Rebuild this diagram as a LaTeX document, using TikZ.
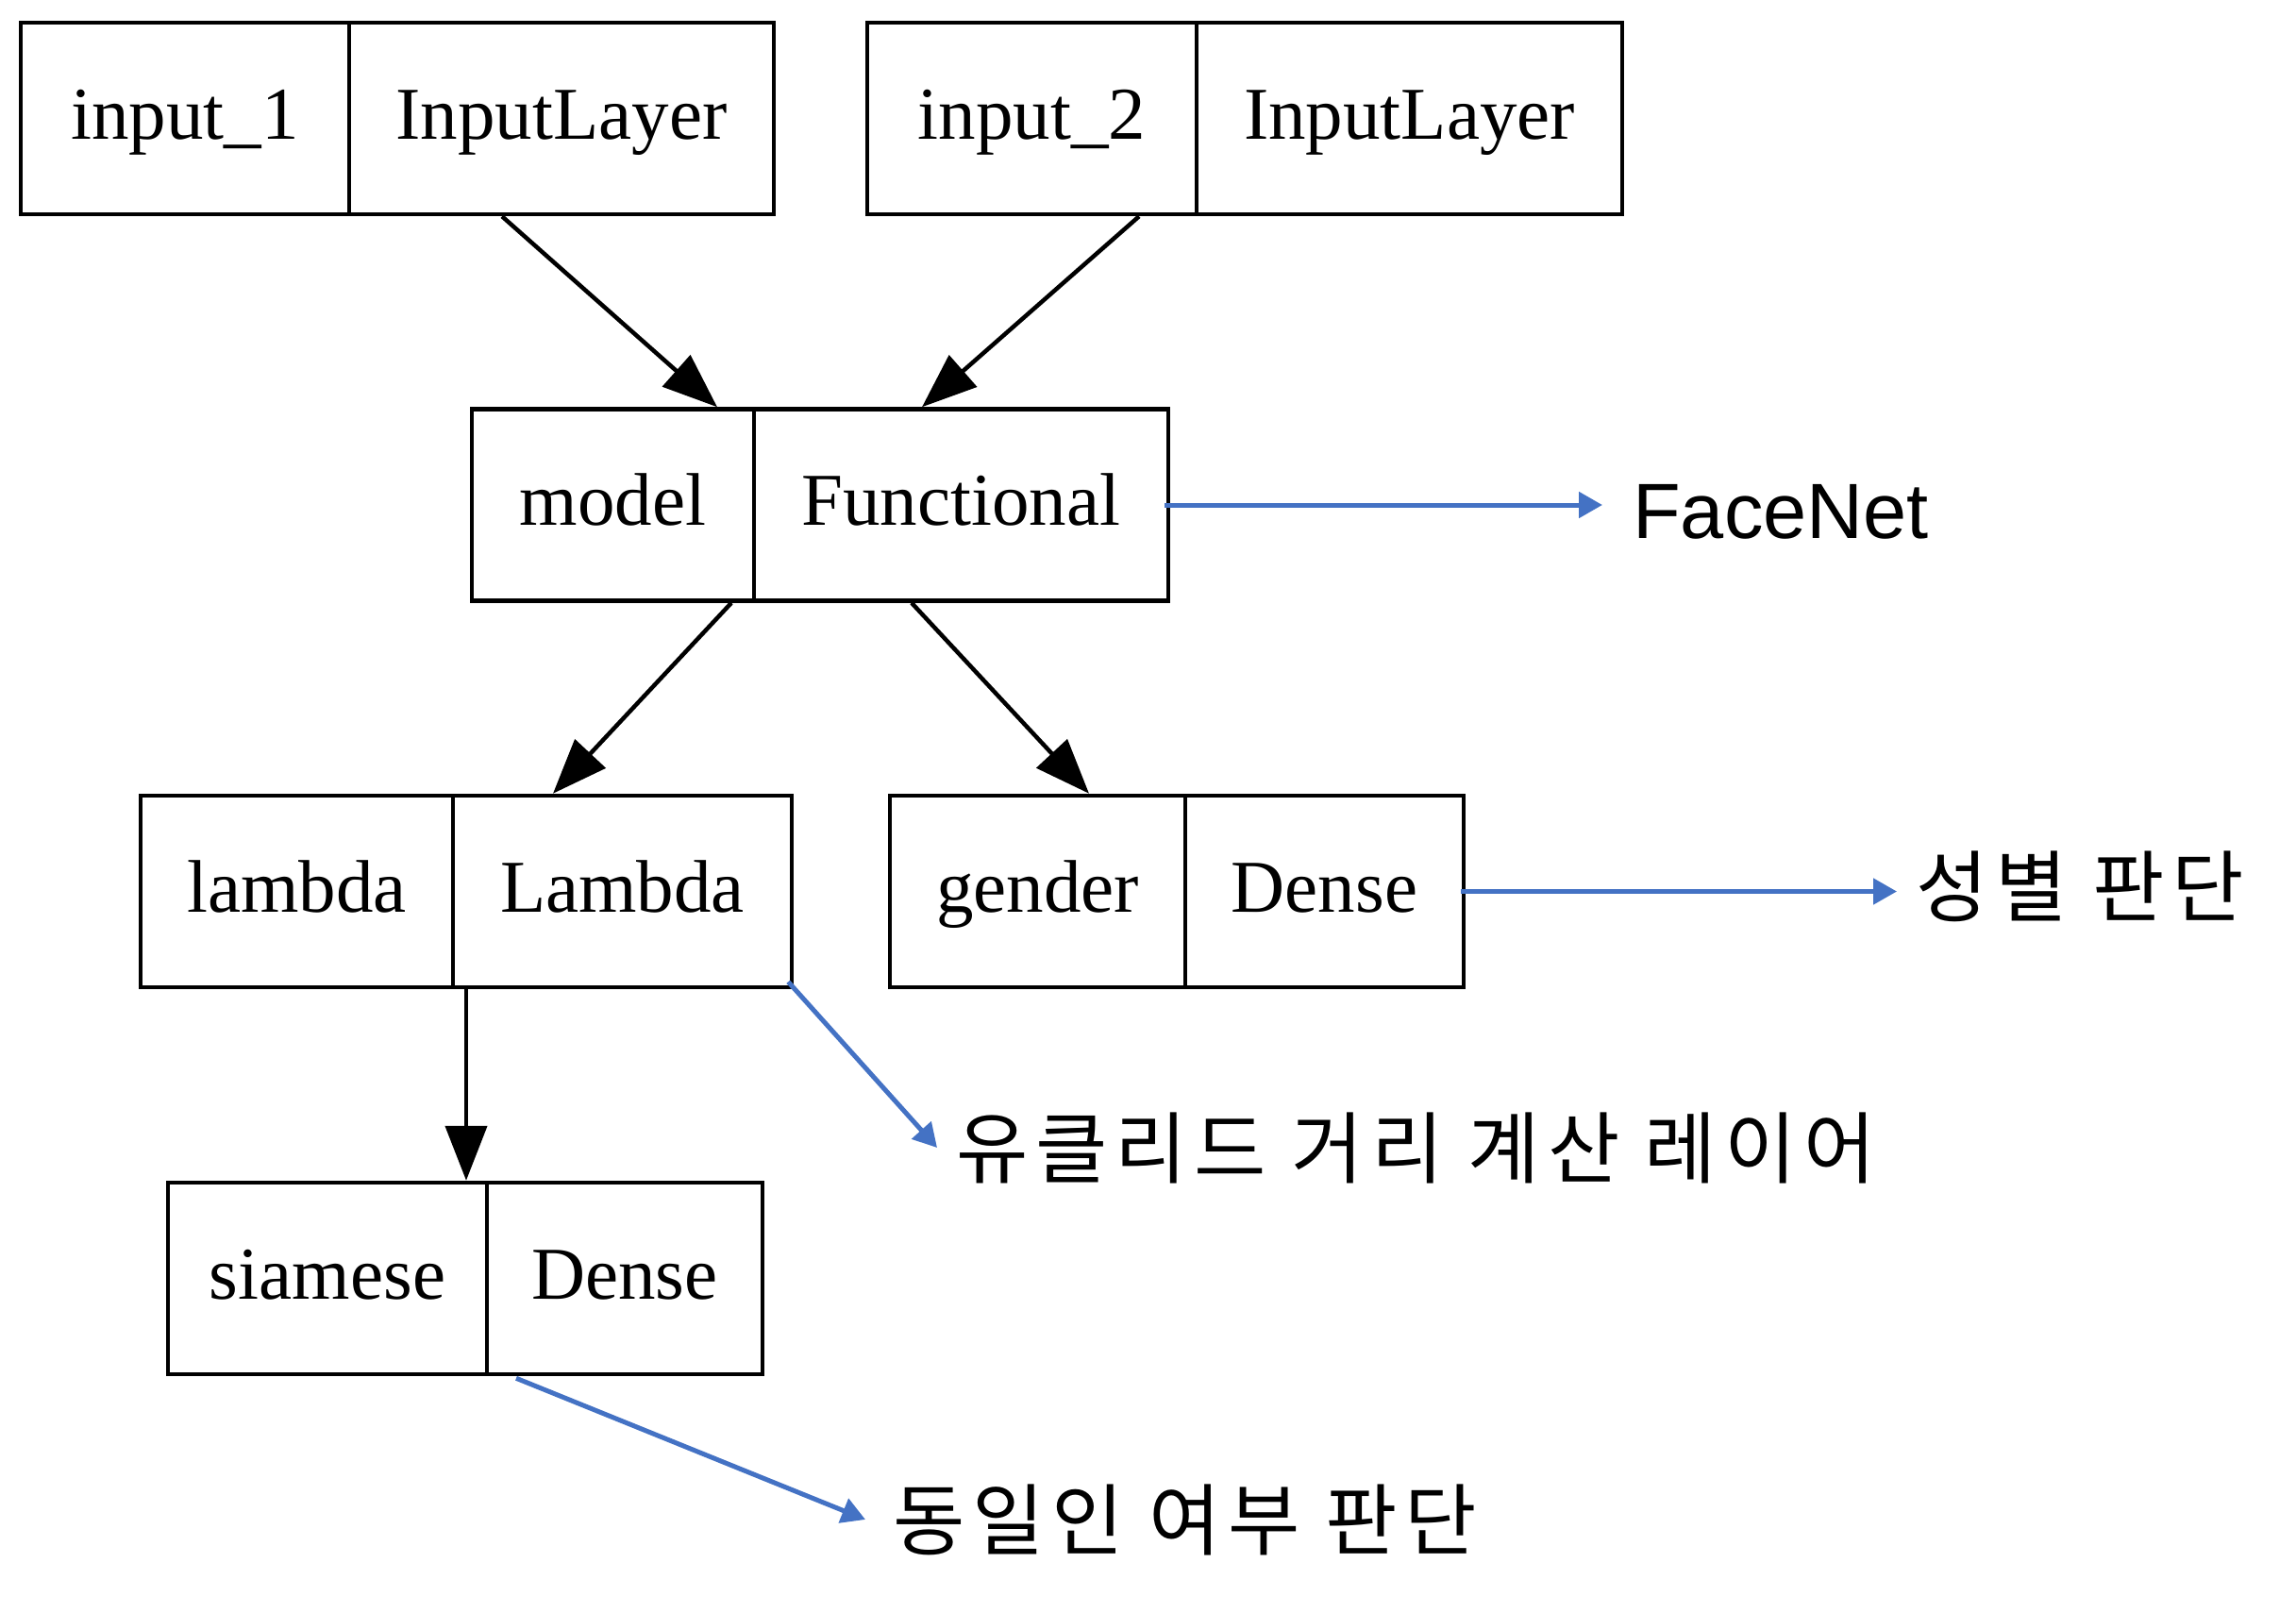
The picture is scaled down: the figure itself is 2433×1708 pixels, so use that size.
\documentclass[tikz,border=0pt]{standalone}
\usepackage{fontspec}
\setmainfont{Liberation Serif}
\newfontfamily\krfont[LetterSpace=9.5]{Noto Sans CJK KR}
\newfontfamily\arialfont{Liberation Sans}
\usetikzlibrary{arrows.meta,calc}
\definecolor{annblue}{HTML}{4472C4}
\begin{document}
\begin{tikzpicture}[x=1pt,y=-1pt,
  cell/.style={draw=black, line width=4.5pt, rectangle, inner sep=0pt,
    minimum height=203pt, text height=60pt, text depth=17pt,
    font=\fontsize{79}{90}\selectfont},
  edge/.style={draw=black, line width=4.5pt, -{Triangle[length=58pt,width=44pt]}},
  ann/.style={draw=annblue, line width=5pt, -{Triangle[length=25pt,width=27pt]}},
  lbl/.style={inner sep=0pt, anchor=base west, font=\krfont\fontsize{83}{95}\selectfont}]
\useasboundingbox[fill=white] (0,0) rectangle (2433,1708);

% record nodes
\node[cell, minimum width=348pt] (in1a) at (196,125.5) {input\_1};
\node[cell, minimum width=450pt] (in1b) at (595,125.5) {InputLayer};
\node[cell, minimum width=349pt] (in2a) at (1093.5,125.5) {input\_2};
\node[cell, minimum width=451pt] (in2b) at (1493.5,125.5) {InputLayer};
\node[cell, minimum width=299pt] (moda) at (649.5,535) {model};
\node[cell, minimum width=439pt] (modb) at (1018.5,535) {Functional};
\node[cell, minimum width=331pt] (lama) at (314.5,944.5) {lambda};
\node[cell, minimum width=359pt] (lamb) at (659.5,944.5) {Lambda};
\node[cell, minimum width=313pt] (gena) at (1099.5,944.5) {gender};
\node[cell, minimum width=295pt] (genb) at (1403.5,944.5) {Dense};
\node[cell, minimum width=338pt] (siaa) at (347,1354.5) {siamese};
\node[cell, minimum width=292pt] (siab) at (662,1354.5) {Dense};

% graph edges
\draw[edge] ([xshift=-63pt]in1b.south) -- ([xshift=110.5pt]moda.north);
\draw[edge] ([xshift=113.5pt]in2a.south) -- ([xshift=-41.5pt]modb.north);
\draw[edge] ([xshift=125.5pt]moda.south) -- ([xshift=-73.5pt]lamb.north);
\draw[edge] ([xshift=-52.5pt]modb.south) -- ([xshift=54.5pt]gena.north);
\draw[edge] ([xshift=-165.5pt]lamb.south) -- ([xshift=147pt]siaa.north);

% annotations
\node[lbl, font=\arialfont\fontsize{83}{95}\selectfont] (face) at (1730,570) {FaceNet};
\node[lbl] (gen) at (2030,970) {성별 판단};
\node[lbl] (euc) at (1013,1247) {유클리드 거리 계산 레이어};
\node[lbl] (same) at (946,1641) {동일인 여부 판단};

\draw[ann] ([xshift=-6pt]modb.east) -- ($(modb.east -| face.west)+(-32,0)$);
\draw[ann] ([xshift=-5pt]genb.east) -- ($(genb.east -| gen.west)+(-20,0)$);
\draw[ann] ($(lamb.south east)+(-6,-8)$) -- ($(euc.west)+(-20,0)$);
\draw[ann] ($(siab.south)+(-115,2)$) -- ($(same.west)+(-29,0)$);
\end{tikzpicture}
\end{document}
